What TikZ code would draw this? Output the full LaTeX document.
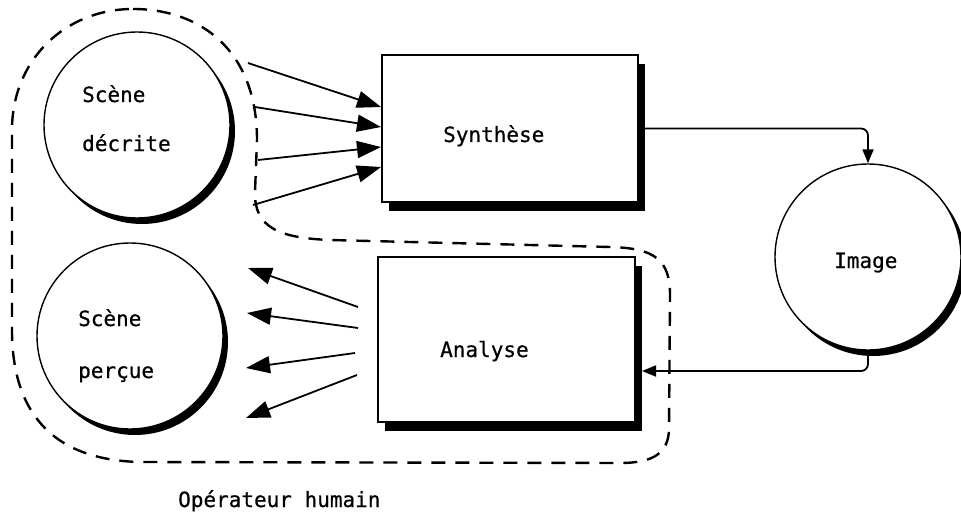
\documentclass[tikz,border=0pt]{standalone}
\usepackage{fontspec}
\newfontfamily\dmfont[FakeBold=0.6]{DejaVu Sans Mono}
\usetikzlibrary{arrows.meta,shadows}
\begin{document}
\begin{tikzpicture}[x=1pt,y=-1pt,
  lbl/.style={anchor=base west, inner sep=0pt, font=\dmfont\fontsize{21}{25}\selectfont},
  disc/.style={circle, draw, line width=1.4pt, fill=white, minimum size=186pt, inner sep=0pt,
    drop shadow={shadow xshift=5pt, shadow yshift=-6pt, fill=black, opacity=1}},
  block/.style={draw, line width=2.4pt, fill=white, inner sep=0pt,
    drop shadow={shadow xshift=7pt, shadow yshift=-9pt, fill=black, opacity=1}},
  feed/.style={line width=1.8pt, -{Triangle[length=24pt,width=17pt]}},
  link/.style={line width=1.8pt, rounded corners=7pt, -{Triangle[length=14pt,width=11pt]}},
  boundary/.style={line width=2.4pt, dash pattern=on 14pt off 10pt}]
\useasboundingbox (0,0) rectangle (961,516);

% operator boundary
\draw[boundary] (133,9) .. controls (200,9) and (257,50) .. (257,140) -- (255,192)
  .. controls (254,228) and (280,238) .. (330,240) -- (610,247)
  .. controls (655,248) and (670,260) .. (670,295) -- (669,430)
  .. controls (668,452) and (655,463) .. (620,463) -- (140,462)
  .. controls (50,460) and (12,410) .. (12,330) -- (12,130)
  .. controls (12,60) and (65,9) .. (133,9) -- cycle;

% circles and blocks
\node[disc] (decrite) at (137,125) {};
\node[disc] (percue) at (130,336) {};
\node[disc] (image) at (868,257) {};
\node[block, minimum width=256pt, minimum height=147pt] (synth) at (510,128.5) {};
\node[block, minimum width=257pt, minimum height=165pt] (analyse) at (506.5,339.5) {};

% texts
\node[lbl] (t1) at (82,102) {Scène};
\node[lbl] (t2) at (82,151) {décrite};
\node[lbl] (t3) at (78,326) {Scène};
\node[lbl] (t4) at (78,378) {perçue};
\node[lbl] (t5) at (443,142) {Synthèse};
\node[lbl] (t6) at (440,357) {Analyse};
\node[lbl] (t7) at (834,268) {Image};
\node[lbl] (t8) at (178,507) {Opérateur humain};

% arrows into the synthesis block
\coordinate (s1) at (248,63);  \coordinate (e1) at (381,107);
\coordinate (s2) at (255,107); \coordinate (e2) at (381,127);
\coordinate (s3) at (258,160); \coordinate (e3) at (381,147);
\coordinate (s4) at (253,205); \coordinate (e4) at (381,167);
\foreach \i in {1,...,4} \draw[feed] (s\i) -- (e\i);

% arrows out of the analysis block
\coordinate (a1) at (358,307); \coordinate (b1) at (248,268);
\coordinate (a2) at (358,328); \coordinate (b2) at (247,313);
\coordinate (a3) at (355,353); \coordinate (b3) at (246,368);
\coordinate (a4) at (357,375); \coordinate (b4) at (246,418);
\foreach \i in {1,...,4} \draw[feed] (a\i) -- (b\i);

% loop through the image
\draw[link] (synth.east) -| (image.north);
\coordinate (ain) at (642,371);
\draw[link] (image.south) |- (ain);
\end{tikzpicture}
\end{document}
